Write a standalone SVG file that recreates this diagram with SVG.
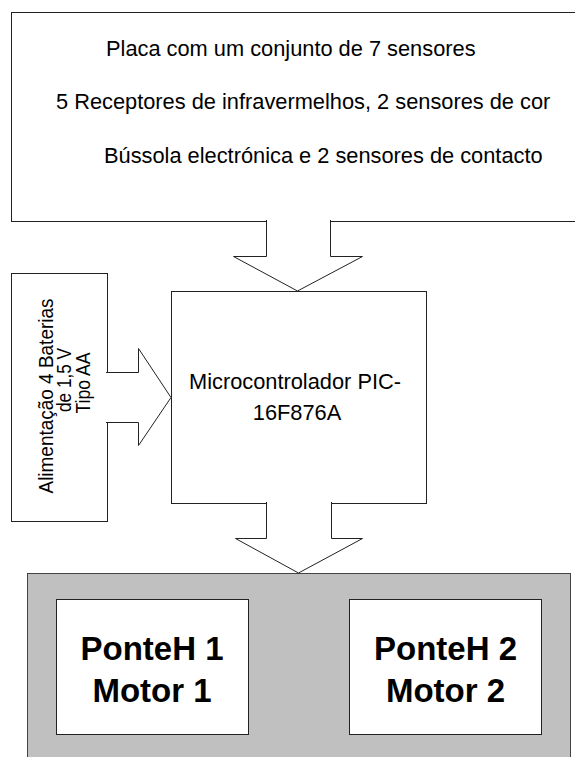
<svg xmlns="http://www.w3.org/2000/svg" width="575" height="757" viewBox="0 0 575 757">
<style>
.box{fill:#fff;stroke:#222;stroke-width:1}
.arrow{fill:#fff;stroke:#222;stroke-width:1;stroke-linejoin:miter}
.gray{fill:#c0c0c0;stroke:#444;stroke-width:1}
.t{font-family:"Liberation Sans",Arial,sans-serif;font-size:21.8px;fill:#000}
.s{font-family:"Liberation Sans",Arial,sans-serif;font-size:20.5px;fill:#000}
.b{font-family:"Liberation Sans",Arial,sans-serif;font-size:33px;font-weight:bold;fill:#000;text-anchor:middle}
</style>
<rect width="575" height="757" fill="#fff"/>
<g id="sensores">
<rect class="box" x="11.5" y="12.5" width="570" height="209"/>
<text class="t" x="106" y="56">Placa com um conjunto de 7 sensores</text>
<text class="t" x="56" y="109">5 Receptores de infravermelhos, 2 sensores de cor</text>
<text class="t" x="104" y="163">Bússola electrónica e 2 sensores de contacto</text>
</g>
<g id="alimentacao">
<rect class="box" x="11.5" y="273.5" width="96" height="248"/>
<text class="s" text-anchor="middle" textLength="195" lengthAdjust="spacingAndGlyphs" transform="translate(52.5,396) rotate(-90)">Alimentação 4 Baterias</text>
<text class="s" text-anchor="middle" textLength="64" lengthAdjust="spacingAndGlyphs" transform="translate(71,380) rotate(-90)">de 1,5 V</text>
<text class="s" text-anchor="middle" textLength="61" lengthAdjust="spacingAndGlyphs" transform="translate(90,383) rotate(-90)">Tipo AA</text>
</g>
<g id="microcontrolador">
<rect class="box" x="171.5" y="291.5" width="255" height="212"/>
<text class="t" text-anchor="middle" x="295" y="389">Microcontrolador PIC-</text>
<text class="t" text-anchor="middle" x="297" y="420">16F876A</text>
</g>
<g id="motores">
<rect class="gray" x="27.5" y="573.5" width="543" height="200"/>
</g>
<g id="ponteh1">
<rect class="box" x="56.5" y="599.5" width="192" height="135"/>
<text class="b" x="152" y="660">PonteH 1</text>
<text class="b" x="152" y="702">Motor 1</text>
</g>
<g id="ponteh2">
<rect class="box" x="349.5" y="599.5" width="192" height="135"/>
<text class="b" x="445.5" y="660">PonteH 2</text>
<text class="b" x="445.5" y="702">Motor 2</text>
</g>
<g id="connectors">
<path class="arrow" d="M266.5,220 V256.5 H233.5 L297.5,291 L362.5,256.5 H330.5 V220"/>
<path class="arrow" d="M106,372.5 H138.5 V348.5 L171,397.5 L138.5,445.5 V422.5 H106"/>
<path class="arrow" d="M266.5,502 V538.5 H235.5 L298.5,573 L362.5,538.5 H331.5 V502"/>
</g>
</svg>
